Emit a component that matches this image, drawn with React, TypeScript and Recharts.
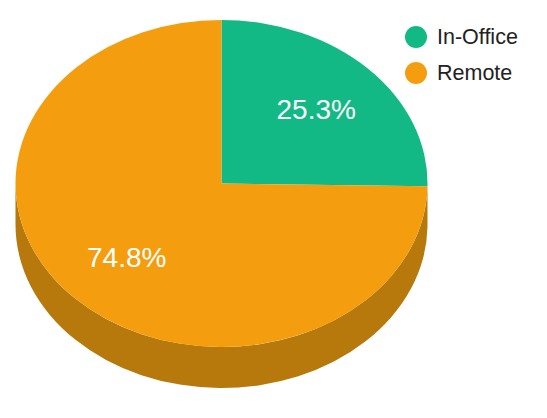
import { PieChart, Pie, Cell, Legend } from 'recharts';

const categories = ['In-Office', 'Remote'];
const shares = [25.3, 74.8];
const topColors = ['#13b984', '#f49e0f'];
const sideColors = ['#0d8a62', '#b7780c'];

const FONT = '"Liberation Sans", Arial, sans-serif';
const TILT = 163.5 / 206; // vertical squash of the pie's top face
const DEPTH = 41;

const data = categories.map((name, i) => ({ name, value: shares[i] }));

const rad = (deg: number) => (deg * Math.PI) / 180;

function pt(cx: number, cy: number, r: number, deg: number, dy = 0) {
  return [cx + r * Math.cos(rad(deg)), cy - r * TILT * Math.sin(rad(deg)) + dy];
}

function TopFace(props: any) {
  const { cx, cy, outerRadius: r, startAngle, endAngle, fill } = props;
  const [x1, y1] = pt(cx, cy, r, startAngle);
  const [x2, y2] = pt(cx, cy, r, endAngle);
  const span = Math.abs(endAngle - startAngle);
  const large = span > 180 ? 1 : 0;
  const sweep = startAngle > endAngle ? 1 : 0;
  const d = `M${cx},${cy} L${x1},${y1} A${r},${r * TILT} 0 ${large} ${sweep} ${x2},${y2} Z`;
  return <path d={d} fill={fill} stroke="none" />;
}

function SideFace(props: any) {
  const { cx, cy, outerRadius: r, startAngle, endAngle, fill } = props;
  const lo = Math.min(startAngle, endAngle);
  const hi = Math.max(startAngle, endAngle);
  const parts: string[] = [];
  // front half of the rim is where the angle lies in (-180, 0) mod 360
  for (let k = -2; k <= 1; k++) {
    const a = Math.max(lo, -180 + 360 * k);
    const b = Math.min(hi, 360 * k);
    if (b - a <= 0.01) continue;
    const [tbx, tby] = pt(cx, cy, r, b);
    const [tax, tay] = pt(cx, cy, r, a);
    const [bax, bay] = pt(cx, cy, r, a, DEPTH);
    const [bbx, bby] = pt(cx, cy, r, b, DEPTH);
    parts.push(
      `M${tbx},${tby} A${r},${r * TILT} 0 0 1 ${tax},${tay} L${bax},${bay} A${r},${r * TILT} 0 0 0 ${bbx},${bby} Z`
    );
  }
  if (!parts.length) return <g />;
  return <path d={parts.join(' ')} fill={fill} stroke="none" />;
}

const renderLabel = (props: any) => {
  const { cx, cy, midAngle, outerRadius, index } = props;
  const [x, y] = pt(cx, cy, outerRadius * 0.645, midAngle);
  return (
    <text
      x={x}
      y={y}
      fill="#fff"
      textAnchor="middle"
      dominantBaseline="central"
      fontSize={28}
      fontFamily={FONT}
    >
      {shares[index].toFixed(1)}%
    </text>
  );
};

const renderLegend = () => (
  <div style={{ fontFamily: FONT }}>
    {categories.map((name, i) => (
      <div key={name} style={{ display: 'flex', alignItems: 'center', height: 36 }}>
        <span
          style={{
            width: 22,
            height: 22,
            borderRadius: '50%',
            background: topColors[i],
            marginRight: 10,
          }}
        />
        <span style={{ fontSize: 21.5, color: '#222' }}>{name}</span>
      </div>
    ))}
  </div>
);

export default function App() {
  return (
    <div style={{ position: 'absolute', left: 0, top: 0, background: '#fff' }}>
      <PieChart width={547} height={418} margin={{ top: 0, right: 0, bottom: 0, left: 0 }}>
        <Pie
          data={data}
          dataKey="value"
          nameKey="name"
          cx={221.5}
          cy={183.5}
          outerRadius={206}
          startAngle={90}
          endAngle={-270}
          stroke="none"
          legendType="none"
          shape={SideFace}
          isAnimationActive={false}
        >
          {data.map((d, i) => (
            <Cell key={d.name} fill={sideColors[i]} />
          ))}
        </Pie>
        <Pie
          data={data}
          dataKey="value"
          nameKey="name"
          cx={221.5}
          cy={183.5}
          outerRadius={206}
          startAngle={90}
          endAngle={-270}
          stroke="none"
          shape={TopFace}
          label={renderLabel}
          labelLine={false}
          isAnimationActive={false}
        >
          {data.map((d, i) => (
            <Cell key={d.name} fill={topColors[i]} />
          ))}
        </Pie>
        <Legend
          layout="vertical"
          verticalAlign="top"
          align="right"
          wrapperStyle={{ top: 19, left: 405, width: 140 }}
          content={renderLegend}
        />
      </PieChart>
    </div>
  );
}
